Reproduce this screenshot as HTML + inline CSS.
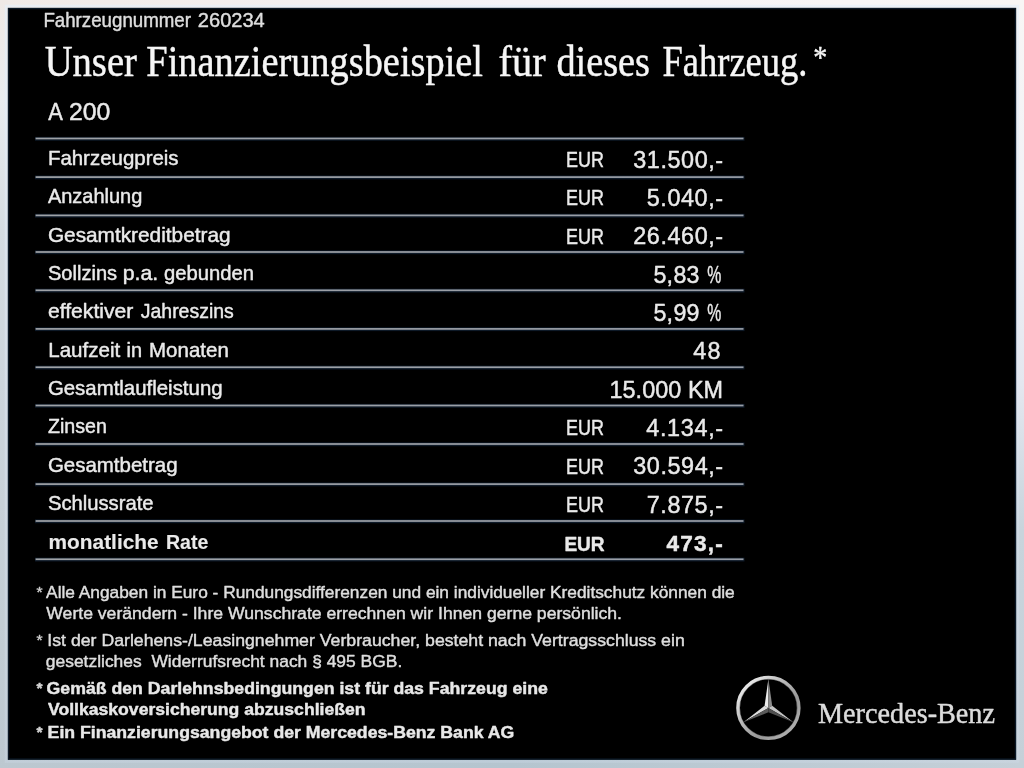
<!DOCTYPE html>
<html lang="de">
<head>
<meta charset="utf-8">
<title>Unser Finanzierungsbeispiel für dieses Fahrzeug</title>
<style>
html,body{margin:0;padding:0;width:1024px;height:768px;overflow:hidden;background:#000;}
svg{display:block;position:absolute;left:0;top:0;}
text{font-family:'Liberation Sans', Arial, sans-serif;white-space:pre;stroke-width:0.45px;paint-order:stroke;stroke-linejoin:round;}
.sf{font-family:'Liberation Serif', 'Times New Roman', serif;}
</style>
</head>
<body>
<svg width="1024" height="768" viewBox="0 0 1024 768">
<defs>
<linearGradient id="gl" x1="0" y1="0" x2="0" y2="1">
<stop offset="0" stop-color="#efe9e6"/><stop offset="0.13" stop-color="#e8ecf0"/><stop offset="0.3" stop-color="#d4dce2"/><stop offset="0.5" stop-color="#ccd5dd"/><stop offset="1" stop-color="#bcc8d0"/>
</linearGradient>
<linearGradient id="gr" x1="0" y1="0" x2="0" y2="1">
<stop offset="0" stop-color="#f8f6f5"/><stop offset="0.26" stop-color="#f2f2f6"/><stop offset="0.5" stop-color="#e4e7ef"/><stop offset="0.69" stop-color="#c8d4dc"/><stop offset="1" stop-color="#c5d0d8"/>
</linearGradient>
<linearGradient id="gt" x1="0" y1="0" x2="1" y2="0">
<stop offset="0" stop-color="#f0eae7"/><stop offset="0.5" stop-color="#f5f3f8"/><stop offset="1" stop-color="#f8f6f5"/>
</linearGradient>
<linearGradient id="gb" x1="0" y1="0" x2="1" y2="0">
<stop offset="0" stop-color="#bcc8d0"/><stop offset="0.5" stop-color="#b5c5cf"/><stop offset="1" stop-color="#c5d0d8"/>
</linearGradient>
<linearGradient id="lg" x1="0" y1="0" x2="1" y2="0">
<stop offset="0" stop-color="#9fa2a6"/><stop offset="1" stop-color="#989da6"/>
</linearGradient>
<linearGradient id="ring" x1="0.1" y1="0.1" x2="0.9" y2="0.9">
<stop offset="0" stop-color="#ececec"/><stop offset="0.35" stop-color="#bcbcbc"/><stop offset="0.7" stop-color="#989898"/><stop offset="1" stop-color="#b0b0b0"/>
</linearGradient>
<linearGradient id="band" gradientUnits="userSpaceOnUse" x1="0" y1="0" x2="0" y2="768"><stop offset="0" stop-color="#e4f0fc" stop-opacity="0.6"/><stop offset="0.5" stop-color="#dfe8f6" stop-opacity="0.45"/><stop offset="1" stop-color="#d0dcec" stop-opacity="0.3"/></linearGradient>
<filter id="tsoft" x="0" y="0" width="1024" height="768" filterUnits="userSpaceOnUse"><feGaussianBlur stdDeviation="0.38"/></filter>
<filter id="soft" x="-10%" y="-10%" width="120%" height="120%"><feGaussianBlur stdDeviation="0.45"/></filter>
</defs>
<rect x="0" y="0" width="1024" height="768" fill="#000"/>
<rect x="0" y="0" width="1024" height="8" fill="url(#gt)"/>
<rect x="0" y="759" width="1024" height="9" fill="url(#gb)"/>
<rect x="0" y="0" width="8" height="768" fill="url(#gl)"/>
<rect x="1016" y="0" width="8" height="768" fill="url(#gr)"/>
<rect x="6" y="6" width="1012" height="755.5" fill="none" stroke="url(#band)" stroke-width="2.5"/>
<rect x="8" y="8" width="1008" height="751.6" fill="#000"/>
<rect x="8.5" y="8.5" width="1007" height="750.6" fill="none" stroke="#0a1826" stroke-width="1.4"/>
<rect x="35" y="136.90" width="709.5" height="3.8" fill="#0e1a28"/><rect x="35.6" y="137.65" width="707.9" height="1.7" fill="url(#lg)"/>
<rect x="35" y="175.50" width="709.5" height="3.8" fill="#0e1a28"/><rect x="35.6" y="176.25" width="707.9" height="1.7" fill="url(#lg)"/>
<rect x="35" y="213.80" width="709.5" height="3.8" fill="#0e1a28"/><rect x="35.6" y="214.55" width="707.9" height="1.7" fill="url(#lg)"/>
<rect x="35" y="250.40" width="709.5" height="3.8" fill="#0e1a28"/><rect x="35.6" y="251.15" width="707.9" height="1.7" fill="url(#lg)"/>
<rect x="35" y="288.70" width="709.5" height="3.8" fill="#0e1a28"/><rect x="35.6" y="289.45" width="707.9" height="1.7" fill="url(#lg)"/>
<rect x="35" y="327.30" width="709.5" height="3.8" fill="#0e1a28"/><rect x="35.6" y="328.05" width="707.9" height="1.7" fill="url(#lg)"/>
<rect x="35" y="365.65" width="709.5" height="3.8" fill="#0e1a28"/><rect x="35.6" y="366.40" width="707.9" height="1.7" fill="url(#lg)"/>
<rect x="35" y="403.90" width="709.5" height="3.8" fill="#0e1a28"/><rect x="35.6" y="404.65" width="707.9" height="1.7" fill="url(#lg)"/>
<rect x="35" y="442.40" width="709.5" height="3.8" fill="#0e1a28"/><rect x="35.6" y="443.15" width="707.9" height="1.7" fill="url(#lg)"/>
<rect x="35" y="482.50" width="709.5" height="3.8" fill="#0e1a28"/><rect x="35.6" y="483.25" width="707.9" height="1.7" fill="url(#lg)"/>
<rect x="35" y="519.40" width="709.5" height="3.8" fill="#0e1a28"/><rect x="35.6" y="520.15" width="707.9" height="1.7" fill="url(#lg)"/>
<rect x="35" y="557.65" width="709.5" height="3.8" fill="#0e1a28"/><rect x="35.6" y="558.40" width="707.9" height="1.7" fill="url(#lg)"/>
<g filter="url(#tsoft)">
<text><tspan x="43.40" y="27.00" font-size="19.8" textLength="147.60" lengthAdjust="spacingAndGlyphs" fill="#dedede" stroke="#dedede">Fahrzeugnummer</tspan> <tspan x="197.80" y="27.10" font-size="20.6" textLength="67.00" lengthAdjust="spacingAndGlyphs" fill="#dedede" stroke="#dedede">260234</tspan></text>
<text><tspan x="44.65" y="76.20" font-size="43.3" class="sf" textLength="92.30" lengthAdjust="spacingAndGlyphs" fill="#f6f6f6" stroke="#f6f6f6">Unser</tspan> <tspan x="146.30" y="76.20" font-size="43.3" class="sf" textLength="336.70" lengthAdjust="spacingAndGlyphs" fill="#f6f6f6" stroke="#f6f6f6">Finanzierungsbeispiel</tspan> <tspan x="498.60" y="76.20" font-size="43.3" class="sf" textLength="47.10" lengthAdjust="spacingAndGlyphs" fill="#f6f6f6" stroke="#f6f6f6">für</tspan> <tspan x="556.40" y="76.20" font-size="43.3" class="sf" textLength="93.50" lengthAdjust="spacingAndGlyphs" fill="#f6f6f6" stroke="#f6f6f6">dieses</tspan> <tspan x="662.50" y="76.20" font-size="43.3" class="sf" textLength="144.90" lengthAdjust="spacingAndGlyphs" fill="#f6f6f6" stroke="#f6f6f6">Fahrzeug.</tspan><tspan x="813.20" y="67.80" font-size="31" class="sf" textLength="14.00" lengthAdjust="spacingAndGlyphs" fill="#f6f6f6" stroke="#f6f6f6">*</tspan></text>
<text><tspan x="48.20" y="119.70" font-size="24" textLength="14.60" lengthAdjust="spacingAndGlyphs" fill="#eaeaea" stroke="#eaeaea">A</tspan> <tspan x="69.00" y="119.70" font-size="24" textLength="41.40" lengthAdjust="spacingAndGlyphs" fill="#eaeaea" stroke="#eaeaea">200</tspan></text>
<text x="47.90" y="165.00" font-size="20.6" textLength="130.70" lengthAdjust="spacingAndGlyphs" fill="#eaeaea" stroke="#eaeaea">Fahrzeugpreis</text>
<text x="566.10" y="167.00" font-size="21.5" textLength="37.90" lengthAdjust="spacingAndGlyphs" fill="#eaeaea" stroke="#eaeaea">EUR</text>
<text x="723.10" y="167.50" font-size="23.4" text-anchor="end" textLength="89.90" lengthAdjust="spacing" fill="#eaeaea" stroke="#eaeaea">31.500,-</text>
<text x="47.90" y="203.35" font-size="20.6" textLength="94.45" lengthAdjust="spacingAndGlyphs" fill="#eaeaea" stroke="#eaeaea">Anzahlung</text>
<text x="566.10" y="205.35" font-size="21.5" textLength="37.90" lengthAdjust="spacingAndGlyphs" fill="#eaeaea" stroke="#eaeaea">EUR</text>
<text x="723.10" y="205.85" font-size="23.4" text-anchor="end" textLength="76.40" lengthAdjust="spacing" fill="#eaeaea" stroke="#eaeaea">5.040,-</text>
<text x="47.90" y="241.70" font-size="20.6" textLength="182.70" lengthAdjust="spacingAndGlyphs" fill="#eaeaea" stroke="#eaeaea">Gesamtkreditbetrag</text>
<text x="566.10" y="243.70" font-size="21.5" textLength="37.90" lengthAdjust="spacingAndGlyphs" fill="#eaeaea" stroke="#eaeaea">EUR</text>
<text x="723.10" y="244.20" font-size="23.4" text-anchor="end" textLength="89.90" lengthAdjust="spacing" fill="#eaeaea" stroke="#eaeaea">26.460,-</text>
<text><tspan x="48.00" y="280.05" font-size="20.6" textLength="69.05" lengthAdjust="spacingAndGlyphs" fill="#eaeaea" stroke="#eaeaea">Sollzins</tspan> <tspan x="122.75" y="280.05" font-size="20.6" textLength="35.55" lengthAdjust="spacingAndGlyphs" fill="#eaeaea" stroke="#eaeaea">p.a.</tspan> <tspan x="164.00" y="280.05" font-size="20.6" textLength="90.05" lengthAdjust="spacingAndGlyphs" fill="#eaeaea" stroke="#eaeaea">gebunden</tspan></text>
<text><tspan x="653.40" y="282.75" font-size="23.2" textLength="46.10" lengthAdjust="spacing" fill="#eaeaea" stroke="#eaeaea">5,83</tspan> <tspan x="707.30" y="282.75" font-size="23.2" textLength="14.00" lengthAdjust="spacingAndGlyphs" fill="#eaeaea" stroke="#eaeaea">%</tspan></text>
<text><tspan x="48.00" y="318.40" font-size="20.6" textLength="85.30" lengthAdjust="spacingAndGlyphs" fill="#eaeaea" stroke="#eaeaea">effektiver</tspan> <tspan x="140.75" y="318.40" font-size="20.6" textLength="93.05" lengthAdjust="spacingAndGlyphs" fill="#eaeaea" stroke="#eaeaea">Jahreszins</tspan></text>
<text><tspan x="653.40" y="321.10" font-size="23.2" textLength="46.10" lengthAdjust="spacing" fill="#eaeaea" stroke="#eaeaea">5,99</tspan> <tspan x="707.30" y="321.10" font-size="23.2" textLength="14.00" lengthAdjust="spacingAndGlyphs" fill="#eaeaea" stroke="#eaeaea">%</tspan></text>
<text><tspan x="48.20" y="356.75" font-size="20.6" textLength="72.10" lengthAdjust="spacingAndGlyphs" fill="#eaeaea" stroke="#eaeaea">Laufzeit</tspan> <tspan x="126.50" y="356.75" font-size="20.6" textLength="15.55" lengthAdjust="spacingAndGlyphs" fill="#eaeaea" stroke="#eaeaea">in</tspan> <tspan x="149.00" y="356.75" font-size="20.6" textLength="79.80" lengthAdjust="spacingAndGlyphs" fill="#eaeaea" stroke="#eaeaea">Monaten</tspan></text>
<text x="720.60" y="359.25" font-size="23.4" text-anchor="end" textLength="27.40" lengthAdjust="spacing" fill="#eaeaea" stroke="#eaeaea">48</text>
<text x="47.90" y="395.10" font-size="20.6" textLength="174.70" lengthAdjust="spacingAndGlyphs" fill="#eaeaea" stroke="#eaeaea">Gesamtlaufleistung</text>
<text x="723.10" y="397.60" font-size="23.4" text-anchor="end" textLength="113.65" lengthAdjust="spacing" fill="#eaeaea" stroke="#eaeaea">15.000 KM</text>
<text x="47.90" y="433.45" font-size="20.6" textLength="58.95" lengthAdjust="spacingAndGlyphs" fill="#eaeaea" stroke="#eaeaea">Zinsen</text>
<text x="566.10" y="435.45" font-size="21.5" textLength="37.90" lengthAdjust="spacingAndGlyphs" fill="#eaeaea" stroke="#eaeaea">EUR</text>
<text x="723.10" y="435.95" font-size="23.4" text-anchor="end" textLength="76.90" lengthAdjust="spacing" fill="#eaeaea" stroke="#eaeaea">4.134,-</text>
<text x="47.90" y="471.80" font-size="20.6" textLength="129.70" lengthAdjust="spacingAndGlyphs" fill="#eaeaea" stroke="#eaeaea">Gesamtbetrag</text>
<text x="566.10" y="473.80" font-size="21.5" textLength="37.90" lengthAdjust="spacingAndGlyphs" fill="#eaeaea" stroke="#eaeaea">EUR</text>
<text x="723.10" y="474.30" font-size="23.4" text-anchor="end" textLength="89.90" lengthAdjust="spacing" fill="#eaeaea" stroke="#eaeaea">30.594,-</text>
<text x="47.90" y="510.15" font-size="20.6" textLength="105.70" lengthAdjust="spacingAndGlyphs" fill="#eaeaea" stroke="#eaeaea">Schlussrate</text>
<text x="566.10" y="512.15" font-size="21.5" textLength="37.90" lengthAdjust="spacingAndGlyphs" fill="#eaeaea" stroke="#eaeaea">EUR</text>
<text x="723.10" y="512.65" font-size="23.4" text-anchor="end" textLength="76.40" lengthAdjust="spacing" fill="#eaeaea" stroke="#eaeaea">7.875,-</text>
<text><tspan x="48.60" y="548.50" font-size="19.7" font-weight="700" textLength="110.00" lengthAdjust="spacingAndGlyphs" fill="#eaeaea" stroke="#eaeaea" stroke-width="0.12">monatliche</tspan> <tspan x="166.00" y="548.50" font-size="19.7" font-weight="700" textLength="42.40" lengthAdjust="spacingAndGlyphs" fill="#eaeaea" stroke="#eaeaea" stroke-width="0.12">Rate</tspan></text>
<text x="564.40" y="550.50" font-size="20.6" font-weight="700" textLength="40.20" lengthAdjust="spacingAndGlyphs" fill="#eaeaea" stroke="#eaeaea" stroke-width="0.12">EUR</text>
<text x="722.80" y="551.00" font-size="22.6" font-weight="700" text-anchor="end" textLength="56.30" lengthAdjust="spacing" fill="#eaeaea" stroke="#eaeaea" stroke-width="0.12">473,-</text>
<text x="36.60" y="596.90" font-size="15.5" fill="#d4d4d4" stroke="#d4d4d4">*</text>
<text x="46.10" y="597.60" font-size="17.2" textLength="688.65" lengthAdjust="spacingAndGlyphs" fill="#dedede" stroke="#dedede">Alle Angaben in Euro - Rundungsdifferenzen und ein individueller Kreditschutz können die</text>
<text x="46.30" y="618.90" font-size="17.2" textLength="575.70" lengthAdjust="spacingAndGlyphs" fill="#dedede" stroke="#dedede">Werte verändern - Ihre Wunschrate errechnen wir Ihnen gerne persönlich.</text>
<text x="36.60" y="645.15" font-size="15.5" fill="#d4d4d4" stroke="#d4d4d4">*</text>
<text x="47.30" y="645.90" font-size="17.2" textLength="637.45" lengthAdjust="spacingAndGlyphs" fill="#dedede" stroke="#dedede">Ist der Darlehens-/Leasingnehmer Verbraucher, besteht nach Vertragsschluss ein</text>
<text x="45.80" y="666.80" font-size="17.2" textLength="356.45" lengthAdjust="spacingAndGlyphs" fill="#dedede" stroke="#dedede">gesetzliches  Widerrufsrecht nach § 495 BGB.</text>
<text x="36.60" y="693.15" font-size="15.5" font-weight="700" fill="#d4d4d4" stroke="#d4d4d4" stroke-width="0.12">*</text>
<text x="46.60" y="693.75" font-size="17.2" font-weight="700" textLength="501.20" lengthAdjust="spacingAndGlyphs" fill="#e8e8e8" stroke="#e8e8e8" stroke-width="0.12">Gemäß den Darlehnsbedingungen ist für das Fahrzeug eine</text>
<text x="48.00" y="714.50" font-size="17.2" font-weight="700" textLength="317.50" lengthAdjust="spacingAndGlyphs" fill="#e8e8e8" stroke="#e8e8e8" stroke-width="0.12">Vollkaskoversicherung abzuschließen</text>
<text x="36.60" y="737.40" font-size="15.5" font-weight="700" fill="#d4d4d4" stroke="#d4d4d4" stroke-width="0.12">*</text>
<text x="47.60" y="738.00" font-size="17.2" font-weight="700" textLength="466.70" lengthAdjust="spacingAndGlyphs" fill="#e8e8e8" stroke="#e8e8e8" stroke-width="0.12">Ein Finanzierungsangebot der Mercedes-Benz Bank AG</text>
<text x="818.00" y="723.10" font-size="29" class="sf" textLength="177.00" lengthAdjust="spacingAndGlyphs" fill="#dcdcdc" stroke="#dcdcdc">Mercedes-Benz</text>
</g>
<g id="star" filter="url(#soft)">
<circle cx="768.4" cy="707.9" r="30.3" fill="none" stroke="url(#ring)" stroke-width="3.8"/>
<circle cx="768.4" cy="707.9" r="28.6" fill="none" stroke="#000" stroke-opacity="0.35" stroke-width="1"/>
<path d="M768.40 707.90 L768.40 679.10 L764.59 705.70 Z" fill="#ececec"/>
<path d="M768.40 707.90 L768.40 679.10 L772.21 705.70 Z" fill="#8c8c8c"/>
<path d="M768.40 707.90 L743.46 722.30 L764.59 705.70 Z" fill="#dcdcdc"/>
<path d="M768.40 707.90 L743.46 722.30 L768.40 712.30 Z" fill="#5a5a5a"/>
<path d="M768.40 707.90 L793.34 722.30 L772.21 705.70 Z" fill="#c4c4c4"/>
<path d="M768.40 707.90 L793.34 722.30 L768.40 712.30 Z" fill="#505050"/>
</g>
</svg>
</body>
</html>
